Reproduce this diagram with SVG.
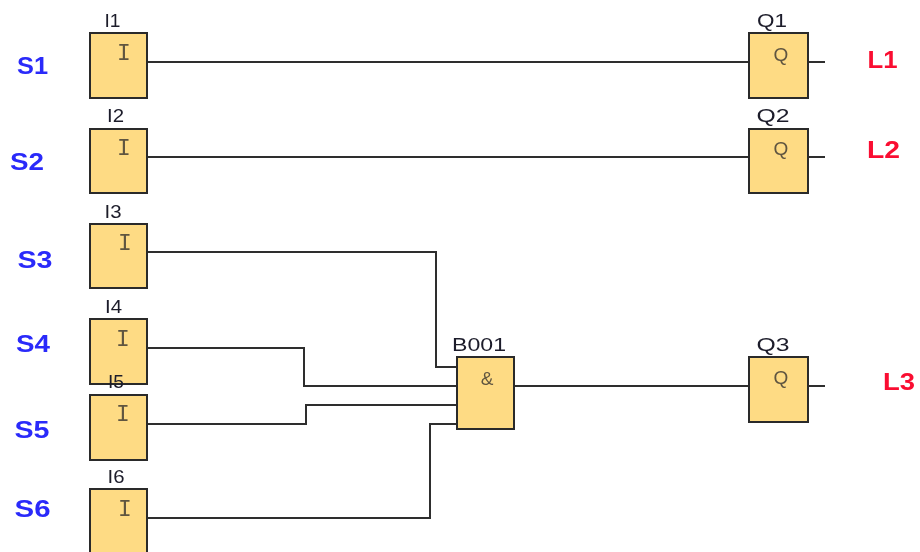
<svg xmlns="http://www.w3.org/2000/svg" width="920" height="552" viewBox="0 0 920 552">
<defs><filter id="soft" x="-5%" y="-5%" width="110%" height="110%"><feGaussianBlur stdDeviation="0.5"/></filter></defs>
<style>
.b{fill:#fedb84;stroke:#2b2b2b;stroke-width:2}
.c{fill:none;stroke:#2e2e2e;stroke-width:2}
.t{font-family:"Liberation Sans",Arial,sans-serif;font-size:19px;fill:#1c1c2a;text-anchor:middle}
.m{font-family:"Liberation Mono","Courier New",monospace;font-size:23px;fill:#5f5540;text-anchor:middle}
.q{font-family:"Liberation Sans",Arial,sans-serif;font-size:19px;fill:#5f5540;text-anchor:middle}
.s{font-family:"Liberation Sans",Arial,sans-serif;font-size:23px;font-weight:bold;fill:#2a2afa;text-anchor:middle}
.l{font-family:"Liberation Sans",Arial,sans-serif;font-size:23px;font-weight:bold;fill:#fa1030;text-anchor:middle}
</style>
<rect width="920" height="552" fill="#fff"/>
<g filter="url(#soft)">
<g id="connectors">
<path class="c" d="M147 62H749"/>
<path class="c" d="M147 157H749"/>
<path class="c" d="M147 252H436V367H457"/>
<path class="c" d="M147 348H304V386H457"/>
<path class="c" d="M147 424H306V405H457"/>
<path class="c" d="M147 518H430V424H457"/>
<path class="c" d="M514 386H749"/>
<path class="c" d="M808 62H825"/>
<path class="c" d="M808 157H825"/>
<path class="c" d="M808 386H825"/>
</g>
<g id="I1"><rect class="b" x="90" y="33" width="57" height="65"/><text class="m" x="124" y="60">I</text><text class="t" x="112.500" y="27" textLength="16" lengthAdjust="spacingAndGlyphs">I1</text></g>
<g id="I2"><rect class="b" x="90" y="129" width="57" height="64"/><text class="m" x="124" y="155">I</text><text class="t" x="115.500" y="122" textLength="17" lengthAdjust="spacingAndGlyphs">I2</text></g>
<g id="I3"><rect class="b" x="90" y="224" width="57" height="64"/><text class="m" x="125" y="250">I</text><text class="t" x="113" y="218" textLength="17" lengthAdjust="spacingAndGlyphs">I3</text></g>
<g id="I4"><rect class="b" x="90" y="319" width="57" height="65"/><text class="m" x="123" y="346">I</text><text class="t" x="113.500" y="313" textLength="17" lengthAdjust="spacingAndGlyphs">I4</text></g>
<g id="I5"><rect class="b" x="90" y="395" width="57" height="65"/><text class="m" x="123" y="421">I</text><text class="t" x="116" y="388" textLength="16" lengthAdjust="spacingAndGlyphs">I5</text></g>
<g id="I6"><rect class="b" x="90" y="489" width="57" height="70"/><text class="m" x="125" y="516">I</text><text class="t" x="116" y="483" textLength="17" lengthAdjust="spacingAndGlyphs">I6</text></g>
<g id="B001"><rect class="b" x="457" y="357" width="57" height="72"/><text class="q" x="487" y="385">&amp;</text><text class="t" x="479" y="351" textLength="54" lengthAdjust="spacingAndGlyphs">B001</text></g>
<g id="Q1"><rect class="b" x="749" y="33" width="59" height="65"/><text class="q" x="781" y="61">Q</text><text class="t" x="772" y="27" textLength="30" lengthAdjust="spacingAndGlyphs">Q1</text></g>
<g id="Q2"><rect class="b" x="749" y="129" width="59" height="64"/><text class="q" x="781" y="155">Q</text><text class="t" x="773" y="122" textLength="33" lengthAdjust="spacingAndGlyphs">Q2</text></g>
<g id="Q3"><rect class="b" x="749" y="357" width="59" height="65"/><text class="q" x="781" y="384">Q</text><text class="t" x="773" y="351" textLength="33" lengthAdjust="spacingAndGlyphs">Q3</text></g>
<text class="s" x="32.500" y="74" textLength="31" lengthAdjust="spacingAndGlyphs">S1</text>
<text class="s" x="27" y="170" textLength="34" lengthAdjust="spacingAndGlyphs">S2</text>
<text class="s" x="35" y="268" textLength="35" lengthAdjust="spacingAndGlyphs">S3</text>
<text class="s" x="33" y="352" textLength="34" lengthAdjust="spacingAndGlyphs">S4</text>
<text class="s" x="32" y="438" textLength="35" lengthAdjust="spacingAndGlyphs">S5</text>
<text class="s" x="32.500" y="517" textLength="36" lengthAdjust="spacingAndGlyphs">S6</text>
<text class="l" x="882.500" y="68" textLength="30" lengthAdjust="spacingAndGlyphs">L1</text>
<text class="l" x="883.500" y="158" textLength="33" lengthAdjust="spacingAndGlyphs">L2</text>
<text class="l" x="899" y="390" textLength="32" lengthAdjust="spacingAndGlyphs">L3</text>
</g>
</svg>
